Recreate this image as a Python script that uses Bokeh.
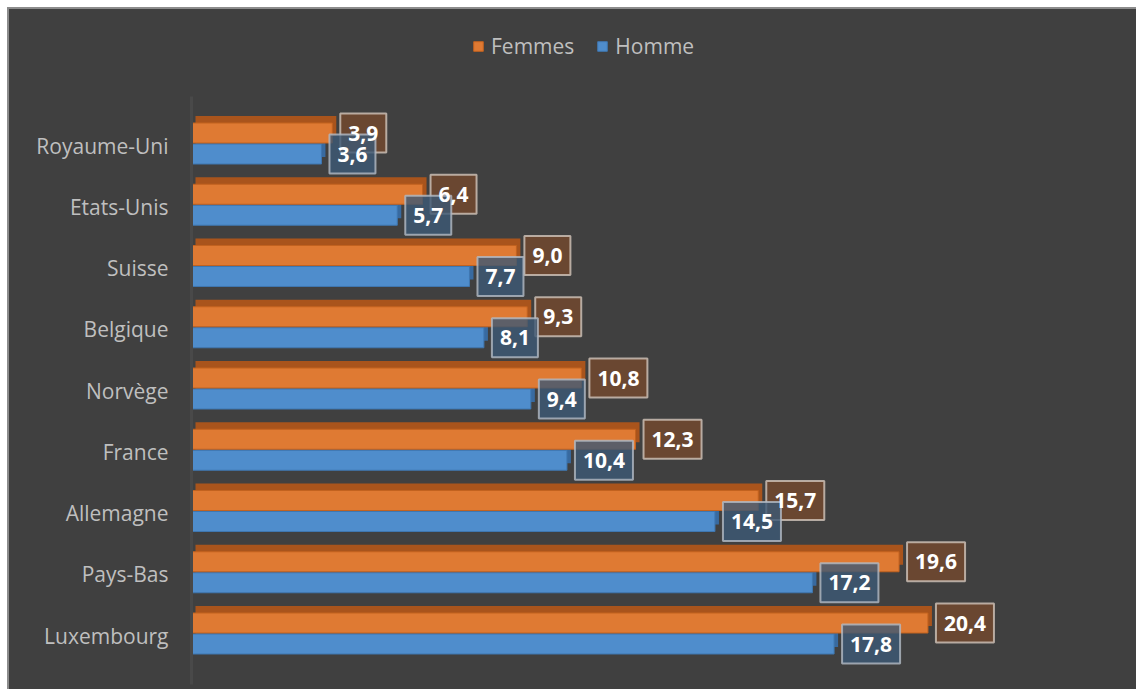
from bokeh.plotting import figure
from bokeh.models import FactorRange, Range1d, Legend, LegendItem, ColumnDataSource, Spacer
from bokeh.transform import dodge
from bokeh.layouts import column, row
from bokeh.core.properties import value
from bokeh.embed import file_html
from bokeh.resources import INLINE

categories = ["Royaume-Uni", "Etats-Unis", "Suisse", "Belgique", "Norvège",
              "France", "Allemagne", "Pays-Bas", "Luxembourg"]
femmes = [3.9, 6.4, 9.0, 9.3, 10.8, 12.3, 15.7, 19.6, 20.4]
homme = [3.6, 5.7, 7.7, 8.1, 9.4, 10.4, 14.5, 17.2, 17.8]
series_names = ["Femmes", "Homme"]

def fmt(v):
    return f"{v:.1f}".replace(".", ",")

src = ColumnDataSource(dict(
    cat=categories,
    femmes=femmes,
    homme=homme,
    flab=[fmt(v) for v in femmes],
    hlab=[fmt(v) for v in homme],
))

BG = "#404040"
ORANGE = "#df7a33"
ORANGE_D = "#a9541c"
BLUE = "#4f8dcc"
BLUE_D = "#386aa0"

LEG_H = 60
p = figure(
    width=1127, height=680 - LEG_H,
    y_range=FactorRange(factors=list(reversed(categories)), range_padding=0.3,
                        range_padding_units="absolute"),
    x_range=Range1d(0, 920 / 36.1),
    x_axis_location=None,
    output_backend="svg", toolbar_location=None,
    min_border_left=182, min_border_right=25, min_border_top=87 - LEG_H, min_border_bottom=5,
    background_fill_color=None, border_fill_color=None,
)
p.outline_line_color = None
p.grid.visible = False

yax = p.yaxis[0]
yax.major_label_text_font = "Open Sans"
yax.major_label_text_font_size = "21px"
yax.major_label_text_color = "#bfbfbf"
yax.axis_line_color = "#494949"
yax.axis_line_width = 3
yax.major_tick_line_color = None
yax.minor_tick_line_color = None
yax.major_label_standoff = 17

# geometry (in data units)
OFF_F = 12.5 / 61.25
OFF_H = -8.5 / 61.25
BH = 20 / 61.25
DX = 4 / 36.1
DY = 7 / 61.25

# 3D depth faces
p.hbar(y=dodge("cat", OFF_F + DY, range=p.y_range), left=DX, right=dodge("femmes", DX),
       height=BH, source=src, fill_color=ORANGE_D, line_color=None)
p.hbar(y=dodge("cat", OFF_H + DY, range=p.y_range), left=DX, right=dodge("homme", DX),
       height=BH, source=src, fill_color=BLUE_D, line_color=None)
# front faces
rh = p.hbar(y=dodge("cat", OFF_H, range=p.y_range), left=0, right="homme", height=BH,
            source=src, fill_color=BLUE, line_color="#3f77b0", line_width=1)
rf = p.hbar(y=dodge("cat", OFF_F, range=p.y_range), left=0, right="femmes", height=BH,
            source=src, fill_color=ORANGE, line_color="#c2621f", line_width=1)

# data label boxes, then texts on top
common = dict(text_align="left", text_baseline="middle", text_font=value("Open Sans"),
              text_font_style="bold", text_font_size="21px", padding=(8, 12),
              x_offset=8, source=src)
p.text(x="femmes", y=dodge("cat", OFF_F, range=p.y_range), text="flab",
       text_alpha=0, background_fill_color="#6a4731",
       border_line_color="#d2c6bc", border_line_alpha=0.8, border_line_width=2, **common)
p.text(x="homme", y=dodge("cat", OFF_H, range=p.y_range), text="hlab",
       text_alpha=0, background_fill_color="#3c5975", background_fill_alpha=0.8,
       border_line_color="#b4bcc6", border_line_alpha=0.8, border_line_width=2, **common)
p.text(x="femmes", y=dodge("cat", OFF_F, range=p.y_range), text="flab",
       text_color="white", **common)
p.text(x="homme", y=dodge("cat", OFF_H, range=p.y_range), text="hlab",
       text_color="white", **common)

# legend in a small strip above the plot (its renderers are hidden)
leg = figure(
    width=1127, height=LEG_H,
    x_range=Range1d(-10, -9), y_range=FactorRange(factors=list(reversed(categories))),
    x_axis_location=None, y_axis_location=None,
    min_border=0, min_border_left=0, min_border_right=0, min_border_top=0, min_border_bottom=0,
    output_backend="svg", toolbar_location=None,
    background_fill_color=None, border_fill_color=None,
)
leg.outline_line_color = None
leg.grid.visible = False
lf = leg.hbar(y="cat", left=0, right="femmes", height=BH, source=src,
              fill_color=ORANGE, line_color="#c2621f")
lh = leg.hbar(y="cat", left=0, right="homme", height=BH, source=src,
              fill_color=BLUE, line_color="#3f77b0")
lf.visible = False
lh.visible = False
legend = Legend(
    items=[LegendItem(label=series_names[0], renderers=[lf]),
           LegendItem(label=series_names[1], renderers=[lh])],
    orientation="horizontal", location=(281, 9),
    background_fill_alpha=0, border_line_color=None,
    inactive_fill_alpha=0,
    label_text_color="#bfbfbf", label_text_font="Open Sans", label_text_font_size="21px",
    glyph_width=12, glyph_height=12, label_standoff=7, spacing=22, padding=0, margin=0,
)
leg.add_layout(legend)

inner = column(
    Spacer(width=1129, height=2, styles={"background-color": "#8c8c8c"}),
    row(Spacer(width=2, height=680, styles={"background-color": "#8c8c8c"}),
        column(leg, p, styles={"background-color": BG})),
)
layout = column(Spacer(width=1136, height=7), row(Spacer(width=7, height=682), inner))

open("out.html", "w").write(file_html(layout, INLINE))
